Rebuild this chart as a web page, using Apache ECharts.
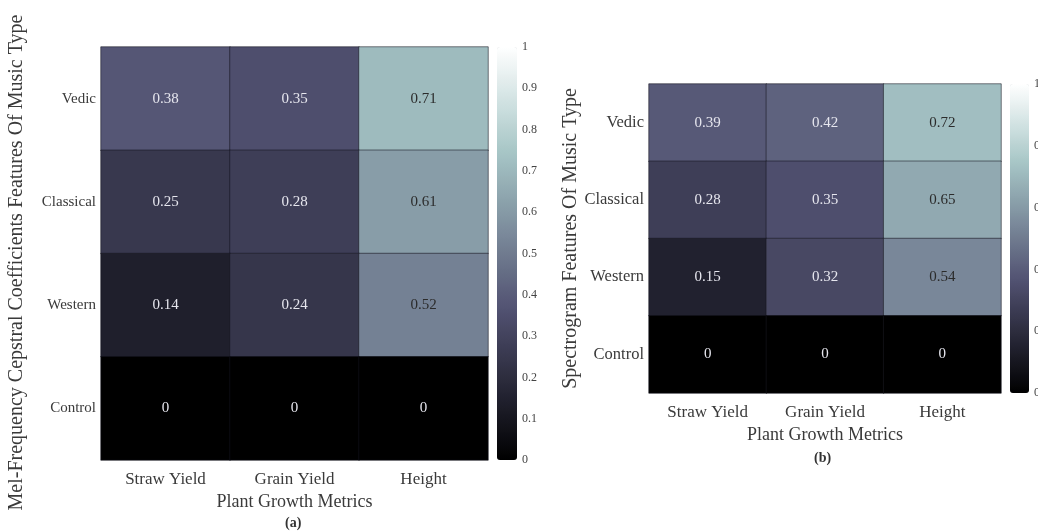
<!DOCTYPE html>
<html>
<head>
<meta charset="utf-8">
<script src="https://cdn.jsdelivr.net/npm/echarts@6/dist/echarts.min.js"></script>
<style>
  html, body { margin: 0; padding: 0; background: #fff; }
  #chart { width: 1038px; height: 531px; }
</style>
</head>
<body>
<div id="chart"></div>
<script>
// Plant growth metrics vs. music type, two feature sets
const metrics = ['Straw Yield', 'Grain Yield', 'Height'];
const musicTypes = ['Vedic', 'Classical', 'Western', 'Control'];

// rows follow musicTypes, columns follow metrics
const mfccValues = [
  [0.38, 0.35, 0.71],
  [0.25, 0.28, 0.61],
  [0.14, 0.24, 0.52],
  [0, 0, 0]
];
const spectrogramValues = [
  [0.39, 0.42, 0.72],
  [0.28, 0.35, 0.65],
  [0.15, 0.32, 0.54],
  [0, 0, 0]
];

const FONT = 'Liberation Serif';

// "bone" colormap sampled at even steps
function bone(x) {
  const r = x < 0.746032 ? 0.652778 * x / 0.746032 : 0.652778 + (x - 0.746032) * (0.347222 / 0.253968);
  const g = x < 0.365079 ? 0.319444 * x / 0.365079
          : x < 0.746032 ? 0.319444 + (x - 0.365079) * (0.458334 / 0.380953)
          : 0.777778 + (x - 0.746032) * (0.222222 / 0.253968);
  const b = x < 0.365079 ? 0.444444 * x / 0.365079 : 0.444444 + (x - 0.365079) * (0.555556 / 0.634921);
  const h = v => Math.round(Math.min(1, Math.max(0, v)) * 255).toString(16).padStart(2, '0');
  return '#' + h(r) + h(g) + h(b);
}
const boneStops = [];
for (let i = 0; i <= 40; i++) boneStops.push(bone(i / 40));

function cells(values) {
  const out = [];
  values.forEach((row, yi) => row.forEach((v, xi) => {
    out.push({
      value: [xi, yi, v],
      label: { color: v > 0.5 ? '#2b2b2b' : '#e6e6ee' }
    });
  }));
  return out;
}

const panels = [
  { values: mfccValues, grid: { left: 101, top: 47, width: 387, height: 413 },
    yName: 'Mel-Frequency Cepstral Coefficients Features Of Music Type', yGap: 74, yFont: 15,
    yNamePad: [0, 18, 0, 0],
    bar: { left: 497, top: 47, width: 20, height: 413 }, step: 0.1 },
  { values: spectrogramValues, grid: { left: 649, top: 84, width: 352, height: 309 },
    yName: 'Spectrogram Features Of Music Type', yGap: 67, yFont: 16.5,
    yNamePad: [0, 0, 0, 0],
    bar: { left: 1010, top: 84, width: 19, height: 309 }, step: 0.2 }
];

const grid = [], xAxis = [], yAxis = [], series = [], visualMap = [];
panels.forEach((p, i) => {
  grid.push(Object.assign({ outerBoundsMode: 'none', containLabel: false }, p.grid));
  xAxis.push({
    type: 'category', data: metrics, gridIndex: 2 * i,
    name: 'Plant Growth Metrics', nameLocation: 'middle', nameGap: 33,
    nameTextStyle: { fontFamily: FONT, fontSize: 18, color: '#3a3a3a' },
    axisLine: { show: false }, axisTick: { show: false }, splitLine: { show: false },
    axisLabel: { fontFamily: FONT, fontSize: 17, color: '#3a3a3a', margin: 11 }
  });
  yAxis.push({
    type: 'category', data: musicTypes, inverse: true, gridIndex: 2 * i,
    name: p.yName, nameLocation: 'middle', nameGap: p.yGap,
    nameTextStyle: { fontFamily: FONT, fontSize: 20, color: '#3a3a3a', padding: p.yNamePad },
    axisLine: { show: false }, axisTick: { show: false }, splitLine: { show: false },
    axisLabel: { fontFamily: FONT, fontSize: p.yFont, color: '#3a3a3a', margin: 5 }
  });
  series.push({
    type: 'heatmap', xAxisIndex: 2 * i, yAxisIndex: 2 * i,
    data: cells(p.values),
    itemStyle: { borderColor: 'rgba(20,20,30,0.55)', borderWidth: 1 },
    label: { show: true, fontFamily: FONT, fontSize: 15, formatter: d => String(d.value[2]) },
    emphasis: { disabled: true }
  });
  // colour bar scale
  grid.push({ left: p.bar.left, top: p.bar.top, width: p.bar.width, height: p.bar.height,
              outerBoundsMode: 'none', containLabel: false });
  xAxis.push({ type: 'value', gridIndex: 2 * i + 1, show: false, min: 0, max: 1 });
  yAxis.push({
    type: 'value', gridIndex: 2 * i + 1, min: 0, max: 1, interval: p.step, position: 'right',
    axisLine: { show: false }, axisTick: { show: false }, splitLine: { show: false },
    axisLabel: { fontFamily: FONT, fontSize: 12, color: '#444', margin: 5, hideOverlap: false }
  });
  visualMap.push({
    type: 'continuous', seriesIndex: i, min: 0, max: 1, calculable: false,
    left: p.bar.left, top: p.bar.top, itemWidth: p.bar.width, itemHeight: p.bar.height,
    padding: 0, text: null, showLabel: false, hoverLink: false,
    inRange: { color: boneStops }
  });
});

const chart = echarts.init(document.getElementById('chart'), null, { renderer: 'canvas' });
chart.setOption({
  backgroundColor: '#ffffff',
  animation: false,
  grid, xAxis, yAxis, series, visualMap,
  graphic: [
    { type: 'text', left: 285, top: 516, style: { text: '(a)', font: 'bold 14px "Liberation Serif"', fill: '#333' } },
    { type: 'text', left: 814, top: 451, style: { text: '(b)', font: 'bold 14px "Liberation Serif"', fill: '#333' } }
  ]
});
</script>
</body>
</html>
